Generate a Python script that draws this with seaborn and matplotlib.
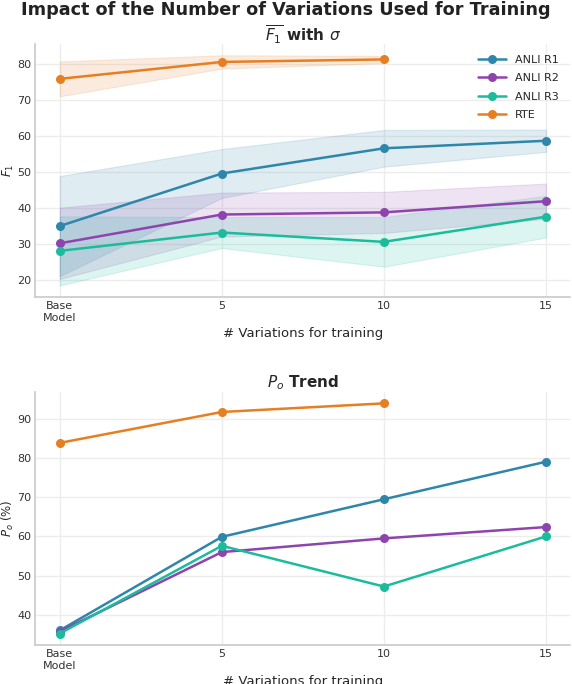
import matplotlib
matplotlib.use("Agg")
import matplotlib.pyplot as plt
import numpy as np
import pandas as pd
import seaborn as sns

# x positions (number of variations used for training, 0 = base model)
variations = [0, 5, 10, 15]
tick_labels = ["Base\nModel", "5", "10", "15"]

datasets = ["ANLI R1", "ANLI R2", "ANLI R3", "RTE"]
colors = ["#2E86AB", "#8E44AD", "#1ABC9C", "#E67E22"]

# mean F1 and its std (RTE has no 15-variation run)
f1_anli_r1 = [34.9, 49.5, 56.5, 58.6]
f1_anli_r2 = [30.1, 38.1, 38.7, 41.8]
f1_anli_r3 = [28.0, 33.1, 30.5, 37.5]
f1_rte = [75.8, 80.5, 81.2]

sd_anli_r1 = [13.9, 6.8, 5.1, 3.1]
sd_anli_r2 = [9.9, 6.1, 5.7, 4.9]
sd_anli_r3 = [9.6, 4.3, 6.9, 5.8]
sd_rte = [4.85, 1.85, 1.0]

# P_o (%)
po_anli_r1 = [36.0, 59.9, 69.5, 79.1]
po_anli_r2 = [35.7, 56.0, 59.5, 62.4]
po_anli_r3 = [35.2, 57.6, 47.2, 60.0]
po_rte = [83.9, 91.8, 94.0]

f1_all = [f1_anli_r1, f1_anli_r2, f1_anli_r3, f1_rte]
sd_all = [sd_anli_r1, sd_anli_r2, sd_anli_r3, sd_rte]
po_all = [po_anli_r1, po_anli_r2, po_anli_r3, po_rte]


def to_frame(values):
    rows = []
    for name, vals in zip(datasets, values):
        for x, v in zip(variations, vals):
            rows.append({"variations": x, "value": v, "dataset": name})
    return pd.DataFrame(rows)


sns.set_theme(style="whitegrid")
plt.rcParams["font.family"] = ["DejaVu Sans"]
plt.rcParams["axes.edgecolor"] = "#cccccc"
plt.rcParams["grid.color"] = "#ededed"

fig, (ax1, ax2) = plt.subplots(2, 1, figsize=(5.72, 6.84), dpi=100)
fig.subplots_adjust(left=0.062, right=0.997, top=0.936, bottom=0.057, hspace=0.375)
palette = dict(zip(datasets, colors))

# top: mean F1 with std band
df_f1 = to_frame(f1_all)
for name, mean, sd, c in zip(datasets, f1_all, sd_all, colors):
    x = variations[:len(mean)]
    m = np.array(mean)
    s = np.array(sd)
    ax1.fill_between(x, m - s, m + s, color=c, alpha=0.15, linewidth=0.8)
sns.lineplot(data=df_f1, x="variations", y="value", hue="dataset", palette=palette,
             marker="o", markersize=6.5, markeredgewidth=0, linewidth=1.8, ax=ax1)
ax1.set_title(r"$\overline{F_1}$ with $\sigma$", fontsize=11, fontweight="bold", pad=2)
ax1.set_ylabel(r"$F_1$", fontsize=8.5, labelpad=1)
ax1.set_xlabel("# Variations for training", fontsize=9.5, labelpad=3)
ax1.legend(frameon=False, loc="upper right", fontsize=8, title=None,
           labelspacing=0.75, handlelength=2.6, borderaxespad=0.6)

# bottom: P_o trend
df_po = to_frame(po_all)
sns.lineplot(data=df_po, x="variations", y="value", hue="dataset", palette=palette,
             marker="o", markersize=6.5, markeredgewidth=0, linewidth=1.8, ax=ax2,
             legend=False)
ax2.set_title(r"$P_o$ Trend", fontsize=11, fontweight="bold", pad=3)
ax2.set_ylabel(r"$P_o$ (%)", fontsize=8.5, labelpad=1)
ax2.set_xlabel("# Variations for training", fontsize=9.5, labelpad=3)

for ax in (ax1, ax2):
    ax.set_xticks(variations)
    ax.set_xticklabels(tick_labels)
    ax.tick_params(labelsize=8, colors="#333333", length=0, pad=3)
    sns.despine(ax=ax)

fig.suptitle("Impact of the Number of Variations Used for Training",
             fontsize=12.7, fontweight="bold", y=0.998, va="top", color="#222222")

fig.savefig("out.png", dpi=100)
